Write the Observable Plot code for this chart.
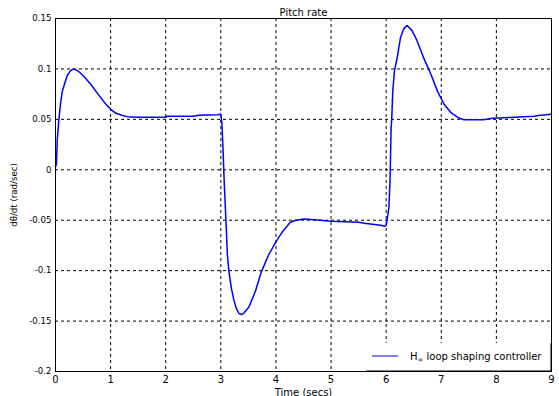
<!DOCTYPE html>
<html>
<head>
<meta charset="utf-8">
<script src="https://cdn.jsdelivr.net/npm/d3@7"></script>
<script src="https://cdn.jsdelivr.net/npm/@observablehq/plot@0.6"></script>
<style>
  html, body { margin: 0; padding: 0; background: #fff; }
  #chart { width: 559px; height: 396px; }
  svg { font-family: "DejaVu Sans", sans-serif; }
</style>
</head>
<body>
<div id="chart"></div>
<script>
const titleText = "Pitch rate";
const xLabel = "Time (secs)";
const yLabel = "dθ/dt (rad/sec)";
const seriesName = ["H", "∞", " loop shaping controller"];

const xTicks = [0, 1, 2, 3, 4, 5, 6, 7, 8, 9];
const yTicks = [-0.2, -0.15, -0.1, -0.05, 0, 0.05, 0.1, 0.15];

const time = [0, 0.018, 0.031, 0.06, 0.09, 0.12, 0.163, 0.21, 0.27, 0.33, 0.42, 0.51, 0.635, 0.8, 0.9, 1.0, 1.1, 1.2, 1.3, 1.5, 2.0, 2.02, 2.5, 2.6, 2.95, 2.98,
  3.0, 3.01, 3.02, 3.04, 3.06, 3.08, 3.10, 3.12, 3.145, 3.19, 3.24, 3.285, 3.33, 3.38, 3.42, 3.51, 3.63, 3.73, 3.87, 4.01, 4.11, 4.26, 4.36, 4.51, 4.7, 4.8, 5.0, 5.5, 5.6, 5.75, 5.9, 5.98,
  6.0, 6.03, 6.05, 6.07, 6.08, 6.09, 6.10, 6.12, 6.15, 6.20, 6.26, 6.32, 6.38, 6.47, 6.56, 6.68, 6.81, 6.93, 7.05, 7.17, 7.32, 7.41, 7.77, 7.93, 8.32, 8.68, 8.8, 9.0];
const rate = [0.003, 0.006, 0.029, 0.049, 0.065, 0.077, 0.085, 0.093, 0.098, 0.1, 0.0975, 0.093, 0.085, 0.073, 0.066, 0.06, 0.056, 0.054, 0.0527, 0.052, 0.052, 0.053, 0.053, 0.054, 0.0545, 0.055,
  0.055, 0.05, 0.045, 0.02, -0.01, -0.035, -0.06, -0.085, -0.1, -0.117, -0.13, -0.138, -0.1425, -0.1435, -0.142, -0.136, -0.12, -0.102, -0.084, -0.0704, -0.062, -0.052, -0.05, -0.0488, -0.0495, -0.05, -0.051, -0.052, -0.053, -0.054, -0.055, -0.056,
  -0.055, -0.045, -0.037, -0.011, 0.0156, 0.042, 0.049, 0.078, 0.098, 0.111, 0.131, 0.14, 0.143, 0.138, 0.128, 0.111, 0.095, 0.078, 0.065, 0.057, 0.0513, 0.0496, 0.0496, 0.051, 0.052, 0.053, 0.054, 0.055];

const data = time.map((t, i) => ({t, v: rate[i]}));

const plot = Plot.plot({
  width: 559,
  height: 396,
  marginLeft: 55,
  marginRight: 8,
  marginTop: 18,
  marginBottom: 25,
  style: {fontFamily: "DejaVu Sans, sans-serif", fontSize: "10px", background: "#fff", color: "#000"},
  x: {domain: [0, 9], ticks: xTicks},
  y: {domain: [-0.2, 0.15], ticks: yTicks},
  marks: [
    Plot.ruleX(xTicks.slice(1, -1), {stroke: "#000", strokeDasharray: "3,3", strokeWidth: 1}),
    Plot.ruleY(yTicks.slice(1, -1), {stroke: "#000", strokeDasharray: "3,3", strokeWidth: 1}),
    Plot.line(data, {x: "t", y: "v", stroke: "#0000ff", strokeWidth: 1.5}),
    Plot.frame({stroke: "#000", strokeWidth: 1}),
    Plot.axisX({ticks: xTicks, tickSize: 0, tickPadding: 4, tickFormat: d => String(d), label: xLabel, labelAnchor: "center", labelArrow: "none", labelOffset: 24, fontSize: 10}),
    Plot.axisY({ticks: yTicks, tickSize: 0, tickPadding: 4, tickFormat: d => String(d), label: yLabel, labelAnchor: "center", labelArrow: "none", labelOffset: 45, fontSize: 8.6}),
    Plot.text([titleText], {frameAnchor: "top", dy: -10, fontSize: 10, fill: "#000"})
  ]
});

document.getElementById("chart").appendChild(plot);

// legend box (bottom-right, inside the frame)
const svg = d3.select(plot);
const xs = plot.scale("x"), ys = plot.scale("y");
const right = xs.apply(9), bottom = ys.apply(-0.2);
const g = svg.append("g");
g.append("rect").attr("x", right - 185).attr("y", bottom - 28).attr("width", 184.5).attr("height", 27.5).attr("fill", "#fff");
g.append("line").attr("x1", right - 179).attr("x2", right - 153).attr("y1", bottom - 15).attr("y2", bottom - 15).attr("stroke", "#0000ff").attr("stroke-width", 1);
const tx = g.append("text").attr("x", right - 141).attr("y", bottom - 11).attr("font-size", 10).attr("text-anchor", "start").attr("fill", "#000");
tx.append("tspan").text(seriesName[0]);
tx.append("tspan").attr("font-size", 7).attr("dy", 2).text(seriesName[1]);
tx.append("tspan").attr("dy", -2).text(seriesName[2]);
// redraw frame edge over legend
svg.append("path").attr("d", `M${right},${bottom-28}V${bottom}H${right-185}`).attr("stroke", "#000").attr("fill", "none");
</script>
</body>
</html>
